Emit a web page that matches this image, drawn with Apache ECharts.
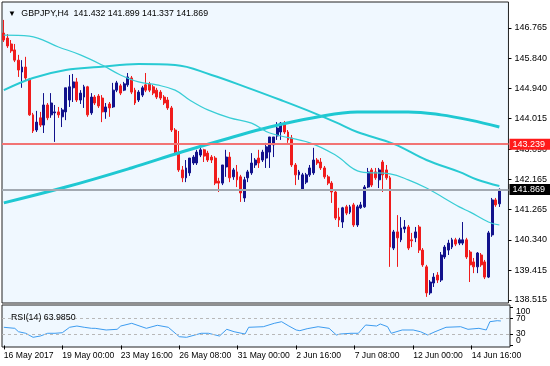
<!DOCTYPE html>
<html>
<head>
<meta charset="utf-8">
<script src="https://cdn.jsdelivr.net/npm/echarts@6/dist/echarts.min.js"></script>
<style>
html,body{margin:0;padding:0;background:#fff}
#chart{width:550px;height:366px}
</style>
</head>
<body>
<div id="chart"></div>
<script>
// GBPJPY H4, 16 May 2017 08:00 -> 15 Jun 2017
var opens = [146.61,146.46,146.28,146.10,145.79,145.43,145.58,145.22,144.13,143.67,
  144.04,143.82,144.43,144.13,144.19,144.22,144.07,144.22,144.58,144.95,
  145.13,144.58,144.67,144.98,144.19,144.67,144.70,144.64,144.22,144.46,
  144.37,144.88,145.01,144.88,145.04,145.25,144.88,144.58,144.73,145.04,
  145.07,144.98,144.88,144.82,144.67,144.58,144.34,143.67,143.00,142.46,
  142.22,142.37,142.67,142.67,142.91,143.07,142.97,142.85,142.82,142.12,
  142.06,142.55,142.85,142.25,142.40,142.25,141.61,142.22,142.37,142.61,
  142.82,142.76,142.82,143.00,143.22,143.49,143.61,143.88,143.61,143.43,
  142.61,142.31,141.85,142.09,142.31,142.37,142.76,142.70,142.52,142.25,
  142.06,141.79,141.03,140.88,141.34,141.18,141.40,140.79,141.31,141.34,
  141.94,142.46,142.40,142.16,142.70,142.46,142.22,140.09,140.58,140.34,
  140.67,140.73,140.34,140.40,140.73,140.03,139.52,138.73,139.03,139.27,
  139.12,139.82,140.03,140.12,140.34,140.24,140.24,140.34,139.97,139.67,
  139.52,139.88,139.67,139.21,140.49,141.55,141.432];
var closes = [146.40,146.22,146.07,145.79,145.49,145.58,145.25,144.13,143.64,143.91,
  143.82,144.43,144.04,144.49,144.22,144.13,144.28,144.95,144.98,145.13,
  144.58,144.79,144.98,144.13,144.67,144.49,144.40,144.22,144.37,144.34,
  144.88,145.10,144.79,145.07,145.28,144.82,144.49,144.82,144.95,144.88,
  144.88,144.79,144.67,144.64,144.49,144.34,143.67,143.00,142.46,142.22,
  142.52,142.82,142.85,143.00,143.07,142.88,142.76,142.76,142.06,142.06,
  142.61,142.85,142.22,142.46,142.16,141.76,142.16,142.40,142.67,142.76,
  142.67,143.00,143.16,143.46,143.46,143.73,143.88,143.61,143.37,142.61,
  142.31,142.40,142.31,142.31,142.52,142.76,142.67,142.52,142.25,142.06,
  141.79,141.00,140.94,141.31,141.15,141.34,140.79,141.34,141.40,141.94,
  142.40,142.00,142.22,142.46,142.31,142.22,140.12,140.58,140.40,140.70,
  140.73,140.09,140.31,140.58,140.03,139.58,138.73,139.06,139.21,139.12,
  139.88,140.12,140.24,140.34,140.21,140.34,140.34,139.82,139.58,139.52,
  139.94,139.58,139.21,140.55,141.55,141.40,141.869];
var lows = [146.34,146.16,146.01,145.73,145.28,144.95,145.19,144.10,143.58,143.61,
  143.76,143.58,143.97,144.04,143.31,144.04,143.76,143.97,144.37,144.52,
  144.52,144.46,144.34,144.07,144.13,144.43,144.34,143.91,144.01,144.07,
  144.34,144.82,144.73,144.85,144.98,144.76,144.43,144.52,144.67,144.82,
  144.82,144.73,144.61,144.58,144.43,144.28,143.61,142.94,142.40,142.09,
  142.09,142.28,142.61,142.61,142.85,142.70,142.70,142.67,142.00,141.79,
  142.00,142.25,142.09,142.16,141.94,141.49,141.49,142.09,142.31,142.52,
  142.52,142.70,142.52,142.52,142.85,143.37,143.37,143.55,143.28,142.55,
  142.00,142.16,141.85,142.03,142.25,142.31,142.61,142.46,142.19,142.00,
  141.46,140.94,140.73,140.70,141.09,141.12,140.73,140.73,141.28,141.31,
  141.91,141.94,142.16,141.91,141.79,142.16,139.52,140.03,139.52,140.27,
  140.55,140.03,140.12,140.27,139.94,139.52,138.61,138.67,138.91,139.03,
  139.06,139.76,139.88,140.06,140.15,140.18,140.18,139.76,139.06,139.33,
  139.33,139.52,139.15,139.18,140.43,141.34,141.337];
var highs = [147.01,146.58,146.40,146.28,145.95,145.79,145.89,145.25,144.19,144.25,
  144.22,144.79,144.49,144.79,144.43,144.37,144.34,144.95,145.34,145.37,
  145.25,144.88,145.04,145.01,144.79,144.73,144.76,144.73,144.49,144.52,
  145.10,145.16,145.07,145.13,145.40,145.31,144.95,144.88,145.01,145.40,
  145.13,145.04,144.95,144.88,144.73,144.67,144.40,143.73,143.64,142.58,
  142.76,142.82,142.91,143.07,143.13,143.10,143.04,142.91,142.88,142.22,
  142.61,143.07,143.00,142.52,142.61,142.31,142.25,142.46,142.97,142.82,
  143.07,143.07,143.28,143.46,143.46,143.91,143.91,143.94,143.67,143.52,
  142.67,142.46,142.37,142.37,142.61,143.13,142.82,142.82,142.58,142.31,
  142.12,141.85,141.31,141.34,141.40,141.40,141.46,141.40,141.49,142.00,
  142.52,142.52,142.52,142.52,142.76,142.61,142.28,140.64,141.09,141.03,
  140.94,140.79,140.55,140.73,140.79,140.09,139.58,139.12,139.33,139.36,
  139.97,140.18,140.34,140.40,140.40,140.40,140.88,140.40,140.03,139.79,
  139.97,139.94,139.73,140.61,141.61,141.61,141.899];

// moving averages read at a few bars: [bar index, price]
var fastMA = [[0,146.55],[7,146.52],[15,146.19],[21,145.95],[27,145.64],[32,145.34],[37,145.13],
  [42,145.04],[47,144.88],[51,144.58],[56,144.28],[62,144.04],[68,143.88],[73,143.58],[84,143.28],
  [91,142.91],[98,142.40],[106,142.34],[111,142.16],[116,141.91],[125,141.34],[128,141.18],[133,140.88],[136,140.79]];
var midMA = [[0,144.88],[8,145.25],[17,145.49],[26,145.58],[37,145.67],[47,145.64],[57,145.34],
  [67,144.95],[76,144.58],[83,144.28],[91,143.91],[97,143.61],[107,143.25],[116,142.76],[125,142.40],[130,142.16],[136,141.97]];
var slowMA = [[0,141.46],[17,141.94],[35,142.52],[49,143.01],[62,143.43],[73,143.76],[85,144.04],
  [97,144.22],[111,144.22],[120,144.13],[128,143.97],[136,143.76]];

// RSI(14) read at a few bars
var rsi = [[0,47.5],[3,44.8],[4,35.9],[6,31.8],[8,21.3],[10,24.7],[12,31.8],[14,31.8],[16,33.3],[18,47.5],
  [20,50.8],[22,47.5],[24,44.8],[25,44.8],[28,40.4],[31,42.2],[32,50.8],[35,57.9],[39,44.8],[42,52.7],
  [45,47.5],[48,22.9],[50,21.3],[54,31.8],[56,31.8],[59,24.7],[61,42.2],[63,35.9],[66,29.9],[67,47.5],
  [71,49.0],[74,57.9],[76,62.1],[78,50.8],[80,40.4],[81,38.6],[83,43.8],[86,49.0],[89,44.8],[91,27.3],
  [92,29.9],[95,31.8],[97,31.8],[99,53.5],[102,50.8],[103,56.1],[105,49.0],[106,31.8],[109,40.4],[112,40.4],
  [114,35.9],[116,27.3],[118,35.9],[121,47.5],[125,49.0],[127,42.2],[130,44.8],[132,40.4],[133,62.1],[135,64.7],[136,63.985]];

var priceTicks = [138.515,139.415,140.340,141.265,142.165,143.090,144.015,144.940,145.840,146.765];
var rsiLevels = [0, 30, 70, 100];
var timeLabels = ['16 May 2017','19 May 00:00','23 May 16:00','26 May 08:00','31 May 00:00',
  '2 Jun 16:00','7 Jun 08:00','12 Jun 00:00','14 Jun 16:00'];
var resistance = 143.239;
var lastPrice = 141.869;

var slots = 139; // bars plus empty space at the right
var cats = [];
for (var i = 0; i < slots; i++) cats.push(String(i));
var candles = opens.map(function(o, i){ return [o, closes[i], lows[i], highs[i]]; });

var font = 'Liberation Sans';
var bull = '#12128c', bear = '#f01c1c';
function onLabel(idx){ return idx % 16 === 0 && idx / 16 < timeLabels.length; }

// rsi scale sits a little past 0..100 so the levels land where the reference has them
var rsiMin = -4.05, rsiMax = 105.75;
function rsiAxis(labelVals, fmt, tickVals){
  return {type: 'value', gridIndex: 1, position: 'right', min: rsiMin, max: rsiMax,
    axisLine: {show: false}, splitLine: {show: false},
    axisTick: {show: !!tickVals, length: 3, customValues: tickVals || [], lineStyle: {color: '#000'}},
    axisLabel: {customValues: labelVals, margin: 6, fontSize: 8.6, color: '#000', hideOverlap: false, formatter: fmt}};
}

var chart = echarts.init(document.getElementById('chart'));
chart.setOption({
  animation: false,
  backgroundColor: '#ffffff',
  textStyle: {fontFamily: font},
  title: [
    {text: '{t|▼} GBPJPY,H4  141.432 141.899 141.337 141.869', left: 3, top: 4,
     textStyle: {fontSize: 8.8, fontWeight: 'normal', color: '#000', fontFamily: font,
       rich: {t: {fontSize: 8, color: '#000', padding: [0, 3, 0, 0]}}}},
    {text: 'RSI(14) 63.9850', left: 6, top: 308,
     textStyle: {fontSize: 8.8, fontWeight: 'normal', color: '#000', fontFamily: font}}
  ],
  grid: [
    {left: 2, top: 2, width: 508, height: 301, show: true, backgroundColor: '#f0f8ff', borderColor: '#222', borderWidth: 1},
    {left: 2, top: 305, width: 508, height: 42, show: true, backgroundColor: '#f0f8ff', borderColor: '#222', borderWidth: 1}
  ],
  xAxis: [
    {type: 'category', gridIndex: 0, data: cats, boundaryGap: true,
     axisLine: {show: false}, axisTick: {show: false}, axisLabel: {show: false}, splitLine: {show: false}},
    {type: 'category', gridIndex: 1, data: cats, boundaryGap: true,
     axisLine: {show: false},
     axisTick: {show: true, alignWithLabel: true, length: 4, interval: onLabel, lineStyle: {color: '#000'}},
     axisLabel: {interval: onLabel, align: 'left', margin: 4, fontSize: 8.6, color: '#000',
       formatter: function(v, idx){ return timeLabels[idx / 16] || ''; }},
     splitLine: {show: false}}
  ],
  yAxis: [
    {type: 'value', gridIndex: 0, position: 'right', min: 138.424, max: 147.553,
     axisLine: {show: false}, splitLine: {show: false},
     axisTick: {show: true, length: 3, customValues: priceTicks, lineStyle: {color: '#000'}},
     axisLabel: {customValues: priceTicks, margin: 6, fontSize: 9, color: '#000',
       formatter: function(v){ return v.toFixed(3); }}},
    rsiAxis([70, 30], function(v){ return String(Math.round(v)); }, rsiLevels),
    // 100 and 0 are drawn nudged inside the panel, like MT4 does
    rsiAxis([88], function(){ return '100'; }),
    rsiAxis([12], function(){ return '0'; })
  ],
  series: [
    {type: 'line', xAxisIndex: 0, yAxisIndex: 0, data: slowMA, smooth: 0.4, showSymbol: false,
     lineStyle: {color: '#1fc8d2', width: 3}, z: 3},
    {type: 'line', xAxisIndex: 0, yAxisIndex: 0, data: midMA, smooth: 0.4, showSymbol: false,
     lineStyle: {color: '#28cad3', width: 2}, z: 3},
    {type: 'line', xAxisIndex: 0, yAxisIndex: 0, data: fastMA, smooth: 0.4, showSymbol: false,
     lineStyle: {color: '#38cdd5', width: 1.2}, z: 3},
    {type: 'candlestick', xAxisIndex: 0, yAxisIndex: 0, data: candles, barWidth: 2.4, z: 2,
     itemStyle: {color: bull, color0: bear, borderColor: bull, borderColor0: bear, borderWidth: 1},
     markLine: {silent: true, symbol: 'none', animation: false,
       data: [
         {yAxis: resistance, lineStyle: {color: '#f27474', width: 2, type: 'solid'},
          label: {show: true, position: 'end', distance: 1, formatter: '143.239', color: '#fff',
            backgroundColor: '#ff1a1a', padding: [1, 6, 1, 3], fontSize: 9, fontFamily: font}},
         {yAxis: lastPrice, lineStyle: {color: '#a3aab2', width: 2, type: 'solid'},
          label: {show: true, position: 'end', distance: 1, formatter: '141.869', color: '#fff',
            backgroundColor: '#000', padding: [1, 6, 1, 3], fontSize: 9, fontFamily: font}}
       ]}},
    {type: 'line', xAxisIndex: 1, yAxisIndex: 1, data: rsi, showSymbol: false,
     lineStyle: {color: '#3d9cf0', width: 1},
     markLine: {silent: true, symbol: 'none', animation: false, label: {show: false},
       lineStyle: {color: '#b8b8b8', width: 1, type: [3, 3]},
       data: [{yAxis: 70}, {yAxis: 30}]}}
  ]
});
</script>
</body>
</html>
